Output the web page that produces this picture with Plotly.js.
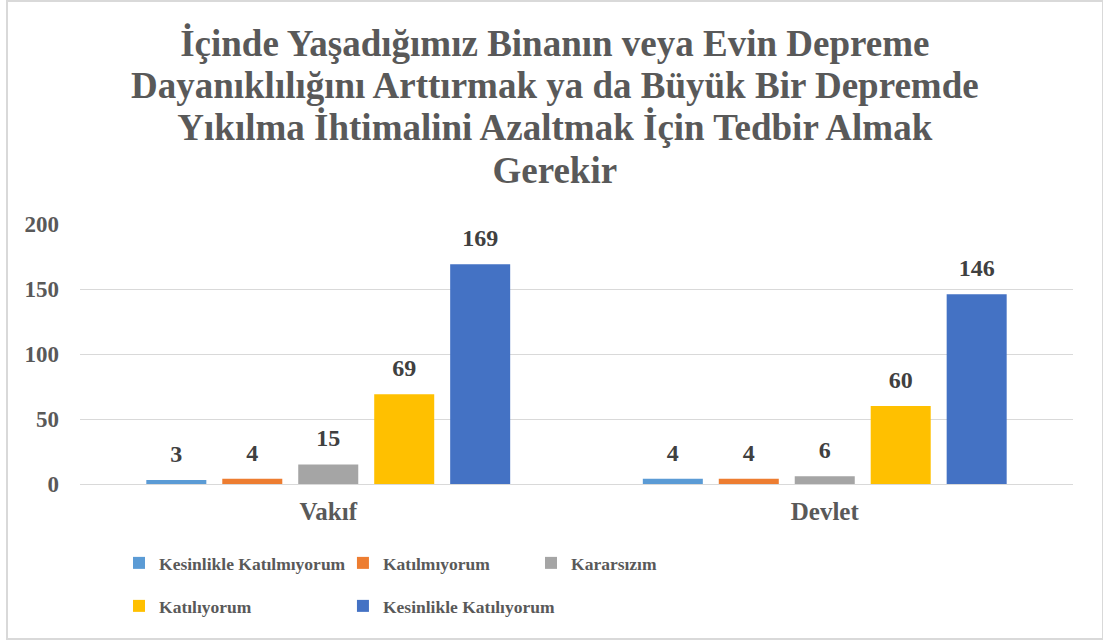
<!DOCTYPE html>
<html><head><meta charset="utf-8">
<script src="https://cdn.plot.ly/plotly-3.0.1.min.js"></script>
<style>
html,body{margin:0;padding:0;background:#fff;}
#chart{width:1103px;height:641px;}
#frame{position:absolute;left:6px;top:0px;width:1094px;height:636px;border:2px solid #d9d9d9;pointer-events:none;}
</style></head>
<body>
<div id="chart"></div>
<div id="frame"></div>
<script>
const categories = ["Vakıf", "Devlet"];
const seriesNames = ["Kesinlikle Katılmıyorum", "Katılmıyorum", "Kararsızım", "Katılıyorum", "Kesinlikle Katılıyorum"];
const kesinlikleKatilmiyorum = [3, 4];
const katilmiyorum = [4, 4];
const kararsizim = [15, 6];
const katiliyorum = [69, 60];
const kesinlikleKatiliyorum = [169, 146];
const yTicks = [0, 50, 100, 150, 200];
const titleLines = ["İçinde Yaşadığımız Binanın veya Evin Depreme",
  "Dayanıklılığını Arttırmak ya da Büyük Bir Depremde",
  "Yıkılma İhtimalini Azaltmak İçin Tedbir Almak",
  "Gerekir"];

const seriesValues = [kesinlikleKatilmiyorum, katilmiyorum, kararsizim, katiliyorum, kesinlikleKatiliyorum];
const colors = ["#5B9BD5", "#ED7D31", "#A5A5A5", "#FFC000", "#4472C4"];
const FONT = "Liberation Serif, Times New Roman, serif";
const GAP = 0.235;

// legend placement (paper x, container y) for each series, Excel-style 3-column grid
const legendX = [0.0393, 0.2648, 0.4542, 0.0393, 0.2648];
const legendY = [1 - 563/641, 1 - 563/641, 1 - 563/641, 1 - 606/641, 1 - 606/641];
const legendIds = ["legend", "legend2", "legend3", "legend4", "legend5"];

const bars = seriesValues.map((vals, i) => ({
  type: "bar",
  name: seriesNames[i],
  x: categories,
  y: vals,
  offsetgroup: "g" + i,
  alignmentgroup: "a",
  marker: {color: colors[i]},
  legend: legendIds[i],
  hoverinfo: "x+y+name"
}));

const labels = seriesValues.map((vals, i) => ({
  type: "scatter",
  mode: "markers+text",
  x: categories,
  y: vals,
  offsetgroup: "g" + i,
  alignmentgroup: "a",
  text: vals.map(String),
  textposition: "top center",
  marker: {size: 18, opacity: 0, color: colors[i]},
  textfont: {family: FONT, size: 24, color: "#404040", weight: "bold"},
  cliponaxis: false,
  showlegend: false,
  hoverinfo: "skip"
}));

const titleHtml = titleLines.map(l => '<span style="font-size:37px">' + l + '</span>').join("<br>");

const layout = {
  width: 1103, height: 641,
  margin: {l: 80, r: 30, t: 224, b: 157},
  paper_bgcolor: "#fff", plot_bgcolor: "#fff",
  title: {
    text: titleHtml,
    font: {family: FONT, size: 32.5, color: "#595959", weight: "bold"},
    xref: "container", x: 0.503, xanchor: "center",
    yref: "container", y: 0.913, yanchor: "top"
  },
  barmode: "group",
  bargap: GAP,
  bargroupgap: 0.21,
  scattermode: "group",
  scattergap: GAP,
  xaxis: {
    tickfont: {family: FONT, size: 25, color: "#595959", weight: "bold"},
    showline: true, linecolor: "#d9d9d9", linewidth: 1,
    ticks: "", ticklabelstandoff: 5
  },
  yaxis: {
    range: [0, 200],
    tickvals: yTicks,
    tickfont: {family: FONT, size: 23, color: "#595959", weight: "bold"},
    showgrid: true, gridcolor: "#d9d9d9", gridwidth: 1,
    zeroline: false, showline: false, ticks: "",
    ticklabelstandoff: 20
  },
  showlegend: true
};

legendIds.forEach((id, i) => {
  layout[id] = {
    orientation: "h",
    xref: "paper", yref: "container",
    x: legendX[i], y: legendY[i],
    xanchor: "left", yanchor: "middle",
    font: {family: FONT, size: 17.5, color: "#595959", weight: "bold"},
    bgcolor: "rgba(0,0,0,0)"
  };
});

Plotly.newPlot("chart", bars.concat(labels), layout, {displayModeBar: false, staticPlot: true});
</script>
</body></html>
